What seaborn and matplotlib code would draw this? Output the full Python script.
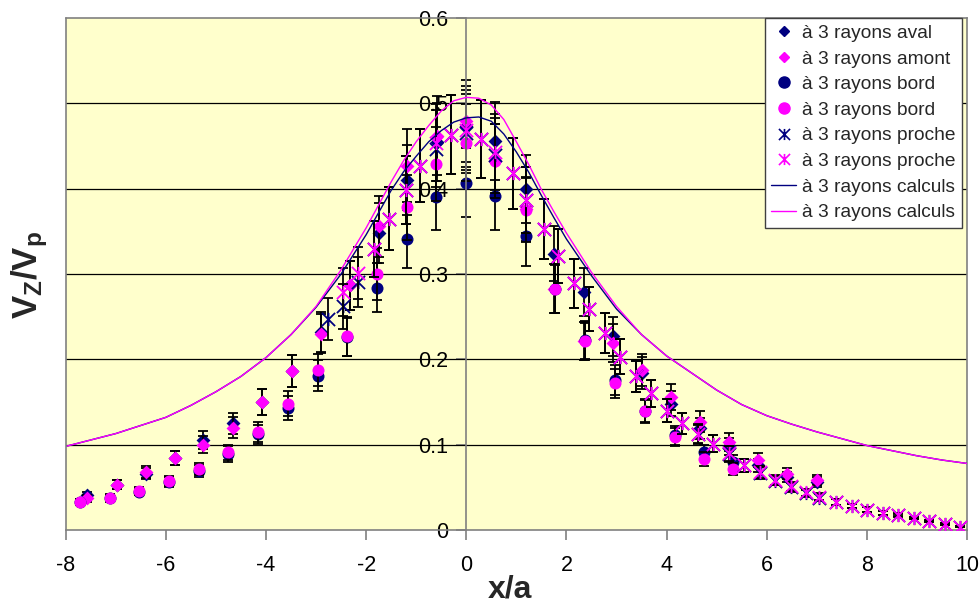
import matplotlib
matplotlib.use("Agg")
import matplotlib.pyplot as plt
from matplotlib.path import Path
from matplotlib.lines import Line2D
import pandas as pd
import seaborn as sns

# ---------------- data ----------------
x_diamond = [-7.57, -6.98, -6.40, -5.82, -5.25, -4.66, -4.07, -3.49, -2.91, -2.33, -1.75, -1.18, -0.58,
             0.0, 0.58, 1.20, 1.75, 2.35, 2.93, 3.51, 4.08, 4.66, 5.25, 5.83, 6.41, 7.00]
aval = [0.041, 0.053, 0.066, 0.084, 0.105, 0.125, 0.150, 0.186, 0.232, 0.287, 0.348, 0.410, 0.455,
        0.473, 0.456, 0.400, 0.324, 0.279, 0.227, 0.184, 0.148, 0.119, 0.098, 0.076, 0.062, 0.056]
amont = [0.037, 0.053, 0.068, 0.084, 0.100, 0.120, 0.150, 0.186, 0.230, 0.287, 0.356, 0.427, 0.462,
         0.479, 0.432, 0.376, 0.283, 0.222, 0.219, 0.188, 0.156, 0.127, 0.103, 0.082, 0.066, 0.059]

x_circle = [-7.72, -7.12, -6.53, -5.93, -5.34, -4.75, -4.15, -3.56, -2.96, -2.38, -1.78, -1.18, -0.61,
            0.0, 0.58, 1.20, 1.78, 2.37, 2.97, 3.56, 4.16, 4.75, 5.33]
bord_navy = [0.033, 0.037, 0.045, 0.056, 0.069, 0.089, 0.112, 0.143, 0.181, 0.226, 0.284, 0.341, 0.390,
             0.407, 0.391, 0.344, 0.283, 0.223, 0.176, 0.140, 0.111, 0.091, 0.080]
bord_mag = [0.033, 0.038, 0.046, 0.057, 0.071, 0.091, 0.115, 0.148, 0.188, 0.227, 0.300, 0.378, 0.429,
            0.454, 0.432, 0.375, 0.282, 0.221, 0.172, 0.139, 0.109, 0.083, 0.071]

x_star = [-2.77, -2.46, -2.17, -1.85, -1.55, -1.21, -0.92, -0.61, -0.31, 0.0, 0.29, 0.58, 0.925, 1.20,
          1.55, 1.84, 2.16, 2.46, 2.77, 3.07, 3.38, 3.69, 4.01, 4.31, 4.63, 4.93, 5.24, 5.55, 5.86, 6.16,
          6.48, 6.78, 7.04, 7.38, 7.71, 8.01, 8.32, 8.63, 8.95, 9.25, 9.57, 9.86]
proche_navy = [0.247, 0.262, 0.291, 0.329, 0.365, 0.398, 0.427, 0.447, 0.463, 0.465, 0.458, 0.439, 0.418,
               0.387, 0.353, 0.321, 0.289, 0.259, 0.231, 0.203, 0.180, 0.160, 0.140, 0.125, 0.112, 0.101,
               0.089, 0.076, 0.067, 0.058, 0.050, 0.043, 0.038, 0.033, 0.028, 0.024, 0.020, 0.017, 0.014,
               0.011, 0.007, 0.004]
x_star_mag = [-2.46, -2.17, -1.85, -1.55, -1.21, -0.92, -0.61, -0.31, 0.0, 0.29, 0.58, 0.925, 1.20,
              1.55, 1.84, 2.16, 2.46, 2.77, 3.07, 3.38, 3.69, 4.01, 4.31, 4.63, 4.93, 5.24, 5.55, 5.86,
              6.16, 6.48, 6.78, 7.04, 7.38, 7.71, 8.01, 8.32, 8.63, 8.95, 9.25, 9.57, 9.86]
proche_mag = [0.279, 0.301, 0.329, 0.365, 0.398, 0.427, 0.454, 0.463, 0.469, 0.458, 0.443, 0.418, 0.387,
              0.353, 0.321, 0.289, 0.259, 0.231, 0.203, 0.180, 0.160, 0.140, 0.125, 0.113, 0.101, 0.090,
              0.076, 0.068, 0.059, 0.051, 0.044, 0.039, 0.033, 0.028, 0.024, 0.020, 0.018, 0.014, 0.011,
              0.007, 0.004]

x_calc = [-8, -7, -6, -5.5, -5, -4.5, -4, -3.5, -3, -2.5, -2, -1.75, -1.5, -1.25, -1, -0.75, -0.5,
          -0.25, 0, 0.25, 0.5, 0.75, 1, 1.25, 1.5, 1.75, 2, 2.5, 3, 3.5, 4, 4.5, 5, 5.5, 6, 6.5, 7,
          7.5, 8, 8.5, 9, 9.5, 10]
calc_mag = [0.098, 0.113, 0.132, 0.146, 0.162, 0.180, 0.202, 0.229, 0.262, 0.305, 0.354, 0.381, 0.408,
            0.433, 0.455, 0.474, 0.491, 0.503, 0.507, 0.506, 0.498, 0.481, 0.455, 0.428, 0.399, 0.373,
            0.348, 0.302, 0.262, 0.229, 0.204, 0.184, 0.164, 0.147, 0.134, 0.124, 0.115, 0.107, 0.099,
            0.093, 0.087, 0.082, 0.078]
calc_navy = [0.098, 0.113, 0.132, 0.146, 0.162, 0.180, 0.202, 0.229, 0.261, 0.300, 0.346, 0.372, 0.398,
             0.420, 0.438, 0.455, 0.468, 0.478, 0.483, 0.484, 0.479, 0.464, 0.443, 0.419, 0.392, 0.366,
             0.341, 0.298, 0.259, 0.229, 0.204, 0.184, 0.164, 0.147, 0.134, 0.124, 0.115, 0.107, 0.099,
             0.093, 0.087, 0.082, 0.078]

ERR_PCT = 0.10  # percentage error bars (10 %)

x_ticks = [-8, -6, -4, -2, 0, 2, 4, 6, 8, 10]
y_ticks = [0, 0.1, 0.2, 0.3, 0.4, 0.5, 0.6]
y_ticklabels = ["0", "0.1", "0.2", "0.3", "0.4", "0.5", "0.6"]
label = "à 3 rayons"

# ---------------- style ----------------
sns.set_style("white")
plt.rcParams['font.family'] = ['Liberation Sans', 'DejaVu Sans']
plt.rcParams['mathtext.fontset'] = 'custom'
plt.rcParams['mathtext.rm'] = 'Liberation Sans'
plt.rcParams['mathtext.bf'] = 'Liberation Sans:bold'
plt.rcParams['mathtext.it'] = 'Liberation Sans:italic'

NAVY = "#000080"
MAG = "#FF00FF"
GRAY = "#808080"

star = Path([(-1, -1), (1, 1), (-1, 1), (1, -1), (0, -1), (0, 1)],
            [Path.MOVETO, Path.LINETO, Path.MOVETO, Path.LINETO, Path.MOVETO, Path.LINETO])

fig = plt.figure(figsize=(9.8, 6.04), dpi=100)
ax = fig.add_axes([65.7 / 980, 1 - 530 / 604, (967 - 65.7) / 980, (530 - 18) / 604])
ax.set_facecolor("#FFFFCC")
ax.set_axisbelow(True)

series = [
    (x_diamond, aval, "D", NAVY, 50),
    (x_diamond, amont, "D", MAG, 50),
    (x_circle, bord_navy, "o", NAVY, 75),
    (x_circle, bord_mag, "o", MAG, 75),
    (x_star, proche_navy, star, NAVY, 90),
    (x_star_mag, proche_mag, star, MAG, 90),
]
for i, (xs, ys, mk, col, s) in enumerate(series):
    err = [ERR_PCT * v for v in ys]
    ax.errorbar(xs, ys, yerr=err, fmt="none", ecolor="black", elinewidth=1.3,
                capsize=3.8, capthick=1.3, zorder=2 + i * 0.1)
    df = pd.DataFrame({"x": xs, "y": ys})
    lw = 1.3 if mk is star else 0
    sns.scatterplot(data=df, x="x", y="y", marker=mk, s=s, color=col, edgecolor=col,
                    linewidth=lw, ax=ax, zorder=2.05 + i * 0.1, legend=False)

sns.lineplot(x=x_calc, y=calc_navy, color=NAVY, linewidth=1.0, ax=ax, sort=False,
             estimator=None, zorder=3)
sns.lineplot(x=x_calc, y=calc_mag, color=MAG, linewidth=1.0, ax=ax, sort=False,
             estimator=None, zorder=3.1)

ax.set_xlim(-8, 10)
ax.set_ylim(0, 0.6)

# grid
for yv in y_ticks[1:-1]:
    ax.axhline(yv, color="black", linewidth=0.9, zorder=0.6)

# spines
ax.spines['left'].set_position(('data', 0))
for sp in ['left', 'bottom', 'top', 'right']:
    ax.spines[sp].set_color(GRAY)
    ax.spines[sp].set_linewidth(1.2)
ax.plot([0, 0], [0, 1], transform=ax.transAxes, color=GRAY, linewidth=1.2, clip_on=False, zorder=5)

ax.set_xticks(x_ticks)
ax.set_xticklabels([str(t) for t in x_ticks])
ax.set_yticks(y_ticks)
ax.set_yticklabels(y_ticklabels)
ax.tick_params(axis='x', direction='out', length=7, width=1.2, color=GRAY, pad=11,
               labelsize=15.5, labelcolor='black', bottom=True)
ax.tick_params(axis='y', direction='out', length=7, width=1.2, color=GRAY, pad=6,
               labelsize=15.5, labelcolor='black', left=True)
ax.set_xlabel("")
ax.set_ylabel("")

fig.text(510 / 980, 1 - 589 / 604, "x/a", fontsize=23, fontweight='bold', ha='center', va='center')
fig.text(30 / 980, 1 - 275 / 604, r"$\mathbf{V_Z/V_p}$", fontsize=25, rotation=90,
         ha='center', va='center')

handles = [
    Line2D([], [], marker="D", linestyle="none", color=NAVY, markersize=5),
    Line2D([], [], marker="D", linestyle="none", color=MAG, markersize=5),
    Line2D([], [], marker="o", linestyle="none", color=NAVY, markersize=8),
    Line2D([], [], marker="o", linestyle="none", color=MAG, markersize=8),
    Line2D([], [], marker=star, linestyle="none", color=NAVY, markersize=8, markeredgewidth=1.2),
    Line2D([], [], marker=star, linestyle="none", color=MAG, markersize=8, markeredgewidth=1.2),
    Line2D([], [], color=NAVY, linewidth=1.0),
    Line2D([], [], color=MAG, linewidth=1.0),
]
labels = [f"{label} aval", f"{label} amont", f"{label} bord", f"{label} bord",
          f"{label} proche", f"{label} proche", f"{label} calculs", f"{label} calculs"]
leg = fig.legend(handles, labels, loc="upper right", bbox_to_anchor=(961.7 / 980, 1 - 18.3 / 604),
                 borderaxespad=0, fontsize=13.8, frameon=True, fancybox=False, shadow=False,
                 handlelength=1.3, handletextpad=0.3, borderpad=0.32, labelspacing=0.43)
leg.get_frame().set_edgecolor("#404040")
leg.get_frame().set_linewidth(1.0)
leg.get_frame().set_facecolor("white")
leg.get_frame().set_alpha(1)

fig.savefig("out.png", dpi=100)
